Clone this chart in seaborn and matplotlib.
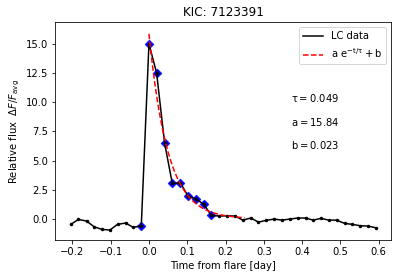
import numpy as np
import pandas as pd
import matplotlib
matplotlib.use("Agg")
import matplotlib.pyplot as plt
from matplotlib.lines import Line2D
import seaborn as sns

title = "KIC: 7123391"
time = [-0.204, -0.184, -0.163, -0.143, -0.123, -0.102, -0.082, -0.061, -0.041, -0.020,
        0.0, 0.020, 0.041, 0.061, 0.082, 0.102, 0.123, 0.143, 0.163, 0.184,
        0.204, 0.225, 0.245, 0.266, 0.286, 0.306, 0.327, 0.347, 0.368, 0.388,
        0.409, 0.429, 0.449, 0.470, 0.490, 0.511, 0.531, 0.552, 0.572, 0.592]
flux = [-0.45, -0.03, -0.17, -0.66, -0.88, -0.94, -0.45, -0.34, -0.71, -0.57,
        15.0, 12.5, 6.47, 3.05, 3.1, 1.97, 1.71, 1.28, 0.31, 0.26,
        0.28, 0.26, -0.09, 0.09, -0.26, -0.11, 0.0, -0.09, 0.0, 0.09,
        0.09, -0.09, 0.06, -0.09, -0.09, -0.37, -0.45, -0.57, -0.6, -0.74]
flare_idx = [9, 10, 11, 12, 13, 14, 15, 16, 17, 18]
tau = 0.049
amp = 15.84
base = 0.023
fit_end = 0.25

df = pd.DataFrame({"t": time, "f": flux})
flare = df.iloc[flare_idx]
tfit = np.linspace(0.0, fit_end, 200)
fit = pd.DataFrame({"t": tfit, "f": amp * np.exp(-tfit / tau) + base})

fig = plt.figure(figsize=(396 / 72, 278 / 72), dpi=72)
ax = fig.add_axes([55.5 / 396, 1 - 240 / 278, (391 - 55.5) / 396, (240 - 22.3) / 278])

sns.scatterplot(data=flare, x="t", y="f", marker="D", color="blue", s=40,
                edgecolor="blue", linewidth=0.5, ax=ax, zorder=2, legend=False)
sns.lineplot(data=df, x="t", y="f", color="black", marker="o", markersize=3.5,
             markeredgewidth=0, linewidth=1.5, ax=ax, zorder=3)
sns.lineplot(data=fit, x="t", y="f", color="red", linestyle="--", linewidth=1.5,
             ax=ax, zorder=4)

ax.set_title(title, fontsize=12)
ax.set_xlabel("Time from flare [day]", fontsize=10)
ax.set_ylabel(r"Relative flux  $\Delta F/F_{\rm avg}$", fontsize=10)
ax.set_xticks([-0.2, -0.1, 0.0, 0.1, 0.2, 0.3, 0.4, 0.5, 0.6])
ax.set_yticks([0.0, 2.5, 5.0, 7.5, 10.0, 12.5, 15.0])
ax.set_xlim(-0.244, 0.632)
ax.set_ylim(-1.79, 16.84)
handles = [Line2D([], [], color="black", linewidth=1.5),
           Line2D([], [], color="red", linestyle="--", linewidth=1.5)]
ax.legend(handles, ["LC data", r"$\rm a\ e^{-t/\tau} + b$"], loc="upper right", fontsize=10)

ax.text(0.37, 10, r"$\rm \tau = %.3f$" % tau, fontsize=10, va="baseline")
ax.text(0.37, 8, r"$\rm a = %.2f$" % amp, fontsize=10, va="baseline")
ax.text(0.37, 6, r"$\rm b = %.3f$" % base, fontsize=10, va="baseline")

fig.savefig("out.png", dpi=72)
